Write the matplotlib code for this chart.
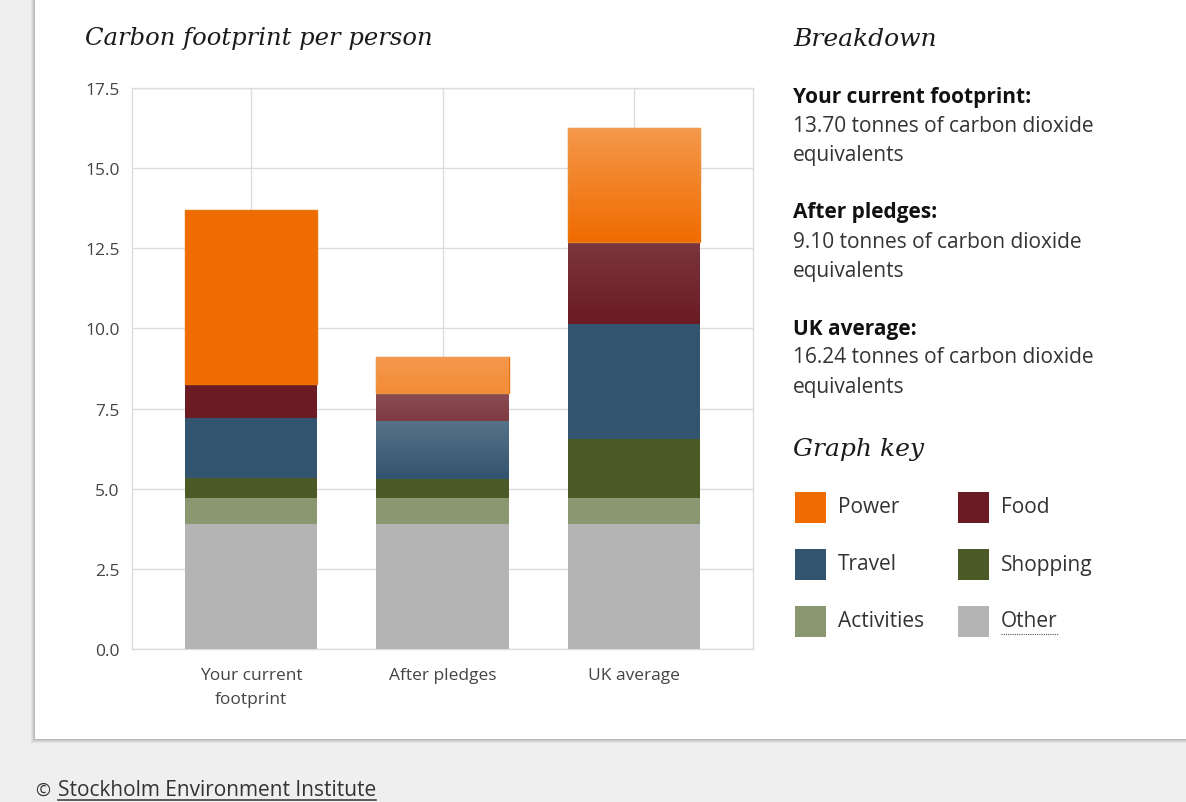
import numpy as np
import matplotlib
matplotlib.use("Agg")
import matplotlib.pyplot as plt
from matplotlib.patches import Rectangle
from matplotlib.lines import Line2D

# --------------------------
# data (tonnes CO2e per person)
# --------------------------
groups = ["Your current\nfootprint", "After pledges", "UK average"]
categories = ["Other", "Activities", "Shopping", "Travel", "Food", "Power"]
other = [3.90, 3.90, 3.90]
activities = [0.81, 0.81, 0.81]
shopping = [0.62, 0.59, 1.84]
travel = [1.87, 1.81, 3.58]
food = [1.06, 0.87, 2.57]
power = [5.44, 1.12, 3.54]
totals = [13.70, 9.10, 16.24]
yticks = [0.0, 2.5, 5.0, 7.5, 10.0, 12.5, 15.0, 17.5]
key_order = ["Power", "Food", "Travel", "Shopping", "Activities", "Other"]

colors = {
    "Power": "#f06c00",
    "Food": "#6a1b24",
    "Travel": "#33546f",
    "Shopping": "#4b5a27",
    "Activities": "#8a9871",
    "Other": "#b4b4b4",
}

W, H = 1186, 803
def px(x, y):
    return x / W, 1 - y / H

sans = "Open Sans"
serif = "DejaVu Serif"

fig = plt.figure(figsize=(W / 100, H / 100), dpi=100)
fig.patch.set_facecolor("#efefef")

# card with soft shadow
for i, a in enumerate([0.05, 0.05, 0.06, 0.08]):
    off = 4 - i
    x0, y0 = px(35 - off, 740 + off)
    fig.patches.append(Rectangle((x0, y0), 1.0, 1.0, transform=fig.transFigure,
                                 facecolor="black", alpha=a, edgecolor="none", zorder=0))
x0, y0 = px(35, 740)
fig.patches.append(Rectangle((x0, y0), 1.0, 1.0, transform=fig.transFigure,
                             facecolor="white", edgecolor="none", zorder=1))

ax = fig.add_axes([132 / W, 1 - 650 / H, (753 - 132) / W, (650 - 89) / H])
ax.set_zorder(2)
ax.set_facecolor("white")

series = [other, activities, shopping, travel, food, power]
x = np.arange(len(groups))
width = 0.69
bottom = np.zeros(len(groups))
patches = {}
for name, vals in zip(categories, series):
    bars = ax.bar(x, vals, width, bottom=bottom, color=colors[name],
                  edgecolor="none", zorder=3)
    patches[name] = bars
    bottom = bottom + np.array(vals)

# thin orange outline around the power segment
for p in patches["Power"]:
    p.set_edgecolor("#e8740a")
    p.set_linewidth(1.0)

# glossy highlight on the 2nd and 3rd bars
def gloss(p, top_alpha, bottom_alpha=0.0):
    x0b, y0b = p.get_x(), p.get_y()
    x1b, y1b = x0b + p.get_width(), y0b + p.get_height()
    n = 64
    img = np.ones((n, 1, 4))
    img[:, 0, 3] = np.linspace(top_alpha, bottom_alpha, n)
    im = ax.imshow(img, extent=[x0b, x1b, y0b, y1b], origin="upper",
                   aspect="auto", zorder=4, interpolation="bilinear")
    im.set_clip_path(p)

gloss(patches["Power"][1], 0.30, 0.22)
gloss(patches["Food"][1], 0.22, 0.14)
gloss(patches["Travel"][1], 0.18, 0.0)
gloss(patches["Power"][2], 0.30, 0.0)
gloss(patches["Food"][2], 0.12, 0.0)

ax.set_xlim(-0.62, 2.62)
ax.set_ylim(0, 17.5)
ax.set_yticks(yticks)
ax.set_yticklabels([f"{v:.1f}" for v in yticks])
ax.set_xticks(x)
ax.set_xticklabels(groups, linespacing=1.7)
ax.grid(True, color="#dcdcdc", linewidth=1, zorder=0)
ax.set_axisbelow(True)
for s in ax.spines.values():
    s.set_color("#dcdcdc")
    s.set_linewidth(1)
ax.tick_params(axis="y", length=0, pad=9, labelsize=12.5, labelcolor="#444444")
ax.tick_params(axis="x", length=0, pad=13, labelsize=12.5, labelcolor="#444444")
for t in ax.get_xticklabels() + ax.get_yticklabels():
    t.set_fontfamily(sans)

# titles
fig.text(*px(85, 38), "Carbon footprint per person", fontfamily=serif, style="italic",
         fontsize=17.5, color="#1a1a1a", va="center", ha="left", zorder=5)
fig.text(*px(793, 39), "Breakdown", fontfamily=serif, style="italic",
         fontsize=18, color="#1a1a1a", va="center", ha="left", zorder=5)

# breakdown texts
heads = ["Your current footprint:", "After pledges:", "UK average:"]
y = 97
for h, tot in zip(heads, totals):
    fig.text(*px(793, y), h, fontfamily=sans, fontweight="bold", fontsize=15,
             color="#111111", va="center", zorder=5)
    fig.text(*px(793, y + 29), f"{tot:.2f} tonnes of carbon dioxide", fontfamily=sans,
             fontsize=15, color="#333333", va="center", zorder=5)
    fig.text(*px(793, y + 59), "equivalents", fontfamily=sans,
             fontsize=15, color="#333333", va="center", zorder=5)
    y += 116

fig.text(*px(793, 450), "Graph key", fontfamily=serif, style="italic",
         fontsize=18, color="#1a1a1a", va="center", zorder=5)

# graph key
key_texts = {}
for i, name in enumerate(key_order):
    col, row = i % 2, i // 2
    kx = 795 + col * 163
    ky = 508 + row * 57
    rx, ry = px(kx, ky + 15.5)
    fig.patches.append(Rectangle((rx, ry), 31 / W, 31 / H, transform=fig.transFigure,
                                 facecolor=colors[name], edgecolor="none", zorder=5))
    key_texts[name] = fig.text(*px(kx + 43, ky), name, fontfamily=sans, fontsize=15,
                               color="#333333", va="center", zorder=5)

footer = fig.text(*px(58, 791), "Stockholm Environment Institute", fontfamily=sans,
                  fontsize=15, color="#333333", va="center", zorder=5)
fig.text(*px(35, 791), "©", fontfamily=sans, fontsize=13, color="#333333",
         va="center", zorder=5)

# underlines
fig.canvas.draw()
inv = fig.transFigure.inverted()
bb = footer.get_window_extent()
(fx0, fy0), (fx1, _) = inv.transform([(bb.x0, bb.y0 + 1), (bb.x1, bb.y0)])
fig.lines.append(Line2D([fx0, fx1], [fy0, fy0], transform=fig.transFigure,
                        color="#444444", linewidth=1.2, zorder=5))
bb = key_texts["Other"].get_window_extent()
(ox0, oy0), (ox1, _) = inv.transform([(bb.x0, bb.y0 - 2), (bb.x1, bb.y0)])
fig.lines.append(Line2D([ox0, ox1], [oy0, oy0], transform=fig.transFigure,
                        color="#555555", linewidth=0.8, linestyle=(0, (1, 1)), zorder=5))

fig.savefig("out.png", dpi=100, facecolor=fig.get_facecolor())
